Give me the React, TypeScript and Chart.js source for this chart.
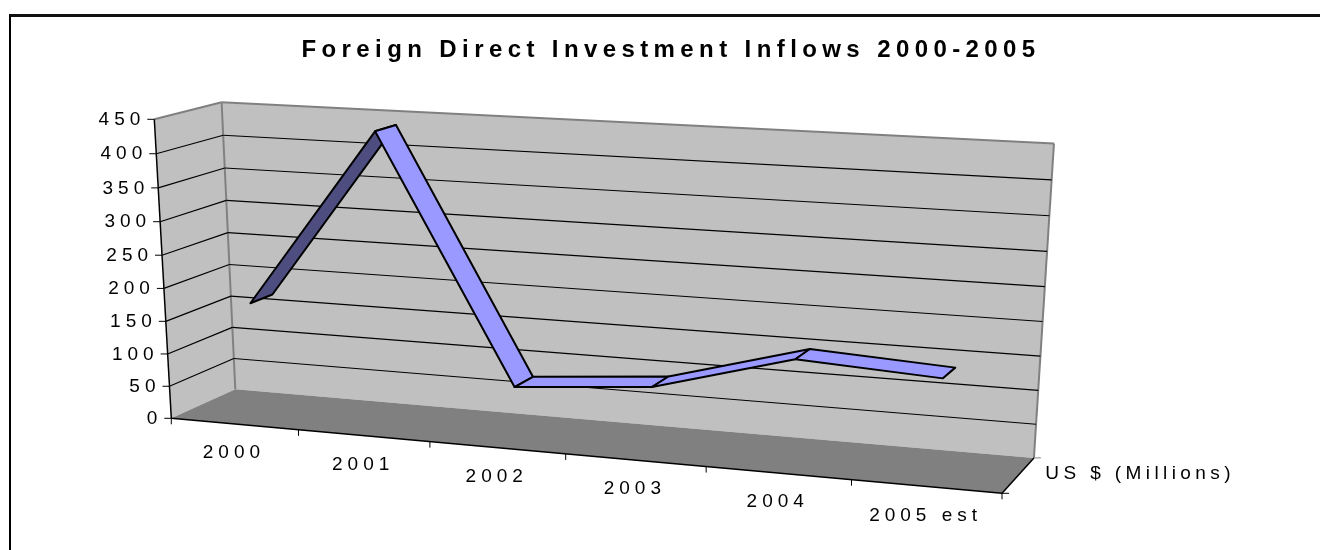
import React, { useEffect, useRef } from "react";
import { Chart, registerables } from "chart.js";

Chart.register(...registerables);

const categories = ["2000", "2001", "2002", "2003", "2004", "2005 est"];
const inflows = [172, 439, 76, 93, 150, 139];
const seriesName = "US $ (Millions)";
const chartTitle = "Foreign Direct Investment Inflows 2000-2005";
const yMax = 450;
const yStep = 50;

type Pt = [number, number];
const O: Pt = [171.3, 418.3];
const U: Pt = [1002, 493.3];
const V: Pt = [154.3, 119.3];
const W: Pt = [235.3, 389.3];
const pa = 0.904;
const pb = 0.96;
const pc = 1.044;
const ribbonFront = 0.33;
const ribbonBack = 0.68;

function project(u: number, v: number, w: number): Pt {
  const d = 1 + u * (pa - 1) + v * (pb - 1) + w * (pc - 1);
  const f = (k: 0 | 1) =>
    (O[k] + u * (pa * U[k] - O[k]) + v * (pb * V[k] - O[k]) + w * (pc * W[k] - O[k])) / d;
  return [f(0), f(1)];
}

function poly(ctx: CanvasRenderingContext2D, pts: Pt[], fill?: string, stroke?: string, lw = 1) {
  ctx.beginPath();
  pts.forEach((p, i) => (i ? ctx.lineTo(p[0], p[1]) : ctx.moveTo(p[0], p[1])));
  ctx.closePath();
  if (fill) {
    ctx.fillStyle = fill;
    ctx.fill();
  }
  if (stroke) {
    ctx.strokeStyle = stroke;
    ctx.lineWidth = lw;
    ctx.stroke();
  }
}

function line(ctx: CanvasRenderingContext2D, a: Pt, b: Pt, color: string, lw: number) {
  ctx.beginPath();
  ctx.moveTo(a[0], a[1]);
  ctx.lineTo(b[0], b[1]);
  ctx.strokeStyle = color;
  ctx.lineWidth = lw;
  ctx.stroke();
}

const LS = "5px";
const TEXT = "#000000";

const scene3d = {
  id: "scene3d",
  beforeDraw(chart: any) {
    chart.ctx.letterSpacing = "5.4px";
  },
  beforeDatasetsDraw(chart: any) {
    const ctx: CanvasRenderingContext2D = chart.ctx;
    const xs = chart.scales.x;
    const ys = chart.scales.y;
    const area = chart.chartArea;
    const toV = (val: number) => (area.bottom - ys.getPixelForValue(val)) / (area.bottom - area.top);
    const toU = (i: number) => (xs.getPixelForValue(i) - area.left) / (area.right - area.left);
    const n = categories.length;
    ctx.save();
    ctx.lineJoin = "round";
    ctx.lineCap = "butt";
    ctx.letterSpacing = "0px";

    // walls and floor
    const wallFill = "#C0C0C0";
    const edge = "#808080";
    poly(ctx, [project(0, 0, 0), project(0, 1, 0), project(0, 1, 1), project(0, 0, 1)], wallFill);
    poly(ctx, [project(0, 0, 1), project(0, 1, 1), project(1, 1, 1), project(1, 0, 1)], wallFill);
    poly(ctx, [project(0, 0, 0), project(1, 0, 0), project(1, 0, 1), project(0, 0, 1)], "#808080");
    line(ctx, project(0, 1, 0), project(0, 1, 1), edge, 2);
    line(ctx, project(0, 1, 1), project(1, 1, 1), edge, 2);
    line(ctx, project(0, 0, 1), project(0, 1, 1), edge, 2);
    line(ctx, project(1, 0, 1), project(1, 1, 1), edge, 2);

    // gridlines and value labels
    ctx.font = "19px 'Liberation Sans', Arial, sans-serif";
    ctx.fillStyle = TEXT;
    ys.ticks.forEach((t: any) => {
      const v = toV(t.value);
      const a = project(0, v, 0);
      const b = project(0, v, 1);
      const c = project(1, v, 1);
      if (t.value > 0 && t.value < yMax) {
        line(ctx, a, b, "#000000", 1.2);
        line(ctx, b, c, "#000000", 1.2);
      }
      line(ctx, [a[0] - 7, a[1]], a, "#000000", 1);
      ctx.letterSpacing = LS;
      ctx.textAlign = "right";
      ctx.textBaseline = "middle";
      ctx.fillStyle = TEXT;
      ctx.fillText(String(t.value), a[0] - 9, a[1] + 0.5);
      ctx.letterSpacing = "0px";
    });

    // axes lines
    line(ctx, project(0, 0, 0), project(0, 1, 0), "#000000", 1.5);
    line(ctx, project(0, 0, 0), project(1, 0, 0), "#000000", 1.5);
    line(ctx, project(1, 0, 0), project(1, 0, 1), "#000000", 1.5);
    const bd = project(1, 0, 1);
    line(ctx, bd, [bd[0] + 7, bd[1]], "#808080", 1);
    const bf = project(1, 0, 0);
    line(ctx, bf, [bf[0] + 7, bf[1]], "#000000", 1);

    // category ticks and labels
    for (let i = 0; i <= n; i++) {
      const p = project(i / n, 0, 0);
      line(ctx, p, [p[0], p[1] + 6], "#000000", 1);
    }
    ctx.textAlign = "center";
    ctx.textBaseline = "middle";
    ctx.fillStyle = TEXT;
    ctx.letterSpacing = LS;
    categories.forEach((label, i) => {
      const p = project(toU(i), 0, 0);
      ctx.fillText(label, p[0] - 0.5, p[1] + 29);
    });
    const mid = project(1, 0, 0.5);
    ctx.textAlign = "left";
    ctx.letterSpacing = "4.4px";
    ctx.fillText(seriesName, mid[0] + 27, mid[1] - 1);
    ctx.letterSpacing = "0px";

    // ribbon
    const vals: number[] = chart.data.datasets[0].data;
    for (let i = 0; i < n - 1; i++) {
      const u0 = toU(i);
      const u1 = toU(i + 1);
      const v0 = toV(vals[i]);
      const v1 = toV(vals[i + 1]);
      const f0 = project(u0, v0, ribbonFront);
      const f1 = project(u1, v1, ribbonFront);
      const b1 = project(u1, v1, ribbonBack);
      const b0 = project(u0, v0, ribbonBack);
      const cross =
        (f1[0] - f0[0]) * (b0[1] - f0[1]) - (f1[1] - f0[1]) * (b0[0] - f0[0]);
      poly(ctx, [f0, f1, b1, b0], cross < 0 ? "#9999FF" : "#4D4D80", "#000000", 2);
    }
    ctx.restore();
  },
};

export default function App() {
  const ref = useRef<HTMLCanvasElement>(null);
  useEffect(() => {
    document.body.style.margin = "0";
    document.body.style.background = "#ffffff";
    const chart = new Chart(ref.current as HTMLCanvasElement, {
      type: "line",
      data: {
        labels: categories,
        datasets: [
          {
            label: seriesName,
            data: inflows,
            showLine: false,
            pointRadius: 0,
            borderColor: "#000000",
            backgroundColor: "#9999FF",
          },
        ],
      },
      options: {
        responsive: false,
        animation: false,
        layout: { padding: { left: 170, right: 148, top: 90, bottom: 130 } },
        plugins: {
          legend: { display: false },
          tooltip: { enabled: false },
          title: {
            display: true,
            text: chartTitle,
            color: "#000000",
            font: { family: "'Liberation Sans', Arial, sans-serif", size: 24, weight: "bold" },
            padding: { top: -54, bottom: 0 },
          },
        },
        scales: {
          x: { type: "category", offset: true, display: false },
          y: { type: "linear", min: 0, max: yMax, ticks: { stepSize: yStep }, display: false },
        },
      },
      plugins: [scene3d],
    } as any);
    return () => chart.destroy();
  }, []);
  return (
    <div style={{ position: "absolute", left: 0, top: 0, width: 1320, height: 550, background: "#fff", overflow: "hidden" }}>
      <div
        style={{
          position: "absolute",
          left: 9,
          top: 14,
          width: 1311,
          height: 536,
          borderTop: "3px solid #111",
          borderLeft: "2px solid #000",
          boxSizing: "border-box",
        }}
      />
      <canvas ref={ref} width={1320} height={550} style={{ position: "absolute", left: 0, top: 0 }} />
    </div>
  );
}
